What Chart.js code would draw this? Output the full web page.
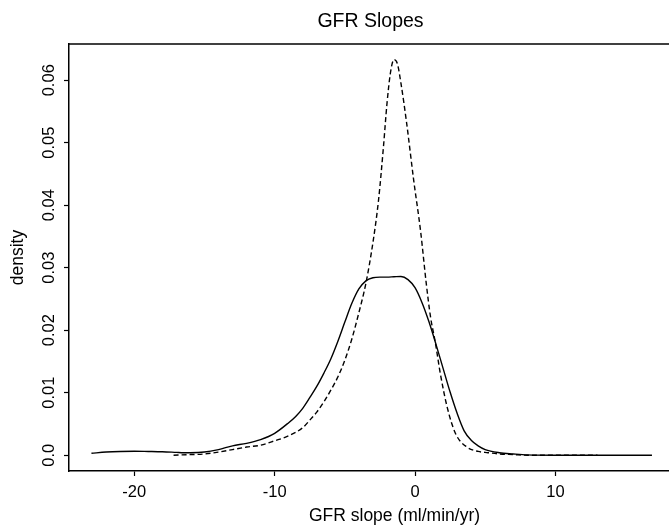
<!DOCTYPE html>
<html>
<head>
<meta charset="utf-8">
<script src="https://cdn.jsdelivr.net/npm/chart.js@4/dist/chart.umd.min.js"></script>
<style>
html,body{margin:0;padding:0;background:#fff;overflow:hidden;}
#wrap{width:680px;height:525px;}
</style>
</head>
<body>
<div id="wrap"><canvas id="c" width="680" height="525"></canvas></div>
<script>
// ── data ──
const chartTitle='GFR Slopes';
const xTitle='GFR slope (ml/min/yr)';
const yTitle='density';
const xTickVals=[-20,-10,0,10];
const xTickLabels=['-20','-10','0','10'];
const yTickVals=[0,0.01,0.02,0.03,0.04,0.05,0.06];
const yTickLabels=['0.0','0.01','0.02','0.03','0.04','0.05','0.06'];

// solid curve (wide density)
const solidX=[-23.05,-22,-21,-20,-19,-18,-17,-16.5,-16,-15,-14,-13,-12,-11,-10,-9,-8.5,-8,-7.5,-7,-6.5,-6,-5.5,-5,-4.5,-4,-3.5,-3,-2.5,-2,-1.5,-1,-0.5,0,0.5,1,1.5,2,2.5,3,3.5,4,4.5,5,6,7,8,10,12,14,16.88];
const solidY=[0.0003,0.0005,0.0006,0.00064,0.0006,0.00055,0.00045,0.0004,0.0004,0.0005,0.0009,0.0015,0.0019,0.0025,0.0035,0.0052,0.0062,0.0075,0.0092,0.011,0.0131,0.0154,0.0182,0.0213,0.0243,0.0266,0.0279,0.0284,0.0285,0.0285,0.02855,0.0286,0.0281,0.0268,0.0244,0.0213,0.0177,0.0139,0.0101,0.0067,0.0039,0.0024,0.0015,0.0009,0.0004,0.0002,0.00005,0,0,0,0];

// dashed curve (peaked density)
const dashX=[-17.2,-16,-15,-14,-13,-12,-11,-10,-9,-8,-7.5,-7,-6.5,-6,-5.5,-5,-4.5,-4,-3.5,-3,-2.6,-2.25,-2,-1.75,-1.5,-1.25,-1,-0.6,-0.1,0.4,0.8,1.1,1.45,1.8,2.3,2.9,3.7,4.5,5.2,6,7,8,10,13];
const dashY=[0,0.0001,0.0002,0.0005,0.0009,0.0013,0.0016,0.0023,0.0031,0.0044,0.0056,0.0069,0.0085,0.0104,0.0125,0.0152,0.0186,0.0228,0.0275,0.034,0.0408,0.0493,0.0562,0.0612,0.0633,0.0626,0.0595,0.0532,0.0441,0.0358,0.0275,0.0222,0.018,0.0131,0.0076,0.0034,0.0013,0.0006,0.0004,0.0002,0.0001,0,0,0];

const FONT='"Liberation Sans", Arial, Helvetica, sans-serif';

const rTextPlugin={
  id:'rText',
  afterDraw(chart){
    const ctx=chart.ctx,ca=chart.chartArea,xs=chart.scales.x,ys=chart.scales.y;
    ctx.save();
    // top edge of the box
    ctx.strokeStyle='#000';ctx.lineWidth=1.4;
    ctx.beginPath();ctx.moveTo(ca.left,ca.top);ctx.lineTo(ca.right,ca.top);ctx.stroke();
    ctx.fillStyle='#000';
    // title
    ctx.font='19.5px '+FONT;ctx.textAlign='center';ctx.textBaseline='alphabetic';
    ctx.fillText(chartTitle,370.5,27);
    // x tick labels
    ctx.font='16.5px '+FONT;ctx.textBaseline='middle';
    xTickVals.forEach((v,i)=>ctx.fillText(xTickLabels[i],xs.getPixelForValue(v),492));
    // y tick labels, rotated
    yTickVals.forEach((v,i)=>{
      ctx.save();ctx.translate(49,ys.getPixelForValue(v));ctx.rotate(-Math.PI/2);
      ctx.fillText(yTickLabels[i],0,0);ctx.restore();
    });
    // axis titles
    ctx.font='17.5px '+FONT;ctx.textBaseline='alphabetic';
    ctx.fillText(xTitle,394.5,521);
    ctx.save();ctx.translate(18,(ca.top+ca.bottom)/2);ctx.rotate(-Math.PI/2);
    ctx.textBaseline='middle';ctx.fillText(yTitle,0,0);ctx.restore();
    ctx.restore();
  }
};

const axisCommon={
  ticks:{display:false},
  grid:{display:true,drawOnChartArea:false,drawTicks:true,tickLength:5,tickColor:'#000',tickWidth:1.2,color:'#000'},
  border:{display:true,color:'#000',width:1.5}
};

new Chart(document.getElementById('c'),{
  type:'line',
  data:{datasets:[
    {label:'solid',data:solidX.map((x,i)=>({x:x,y:solidY[i]})),borderColor:'#000',borderWidth:1.4,pointRadius:0,fill:false,cubicInterpolationMode:'monotone'},
    {label:'dashed',data:dashX.map((x,i)=>({x:x,y:dashY[i]})),borderColor:'#000',borderWidth:1.4,borderDash:[5,3],pointRadius:0,fill:false,cubicInterpolationMode:'monotone'}
  ]},
  options:{
    responsive:false,animation:false,
    layout:{padding:{left:64,right:6,top:44,bottom:49}},
    plugins:{legend:{display:false},tooltip:{enabled:false},title:{display:false}},
    scales:{
      x:{...axisCommon,type:'linear',min:-24.65,max:18.45,
        afterBuildTicks:s=>{s.ticks=xTickVals.map(v=>({value:v}));}},
      y:{...axisCommon,type:'linear',min:-0.00253,max:0.0658,
        afterBuildTicks:s=>{s.ticks=yTickVals.map(v=>({value:v}));}}
    }
  },
  plugins:[rTextPlugin]
});
</script>
</body>
</html>
